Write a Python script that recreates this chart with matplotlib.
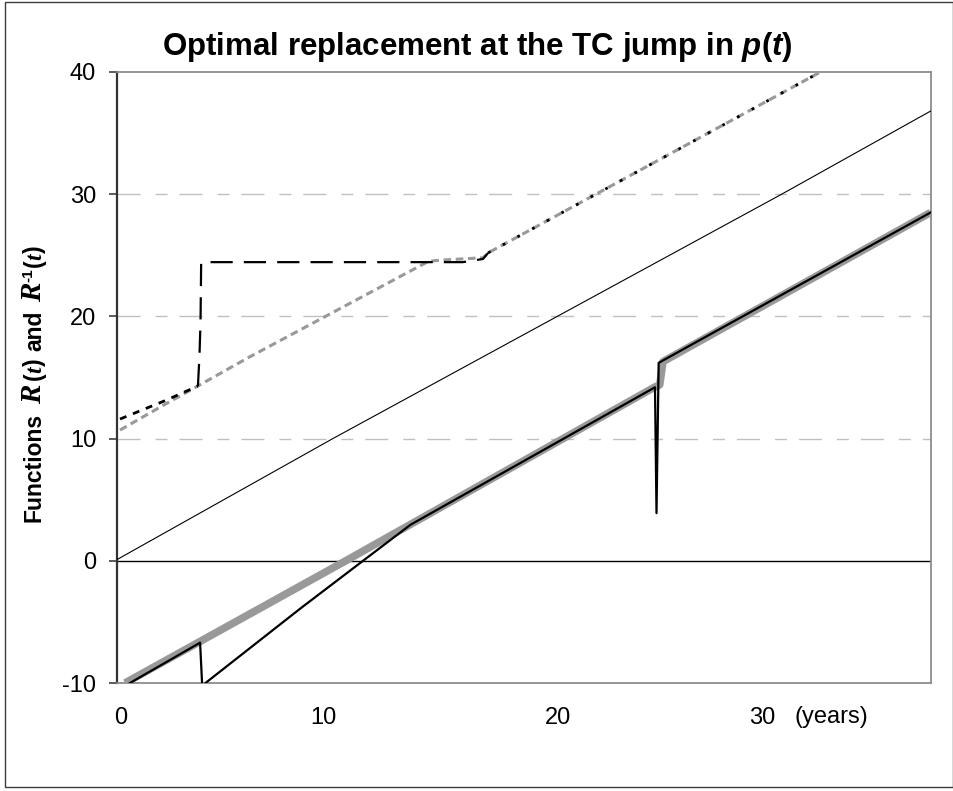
import matplotlib.pyplot as plt
from matplotlib.patches import Rectangle

# fuentes parecidas a Arial del original
plt.rcParams['font.family'] = ['Liberation Sans', 'DejaVu Sans']
plt.rcParams['axes.unicode_minus'] = False
plt.rcParams['mathtext.fontset'] = 'custom'
plt.rcParams['mathtext.rm'] = 'Liberation Sans:bold'
plt.rcParams['mathtext.it'] = 'Liberation Sans:italic:bold'
plt.rcParams['mathtext.bf'] = 'Liberation Sans:bold'

# datos (t en años)
thin_t = [0.0, 10.0, 30.8, 37.7]
thin_y = [0.1, 10.0, 30.0, 36.8]

gray_low_t = [0.37, 3.85, 10.6, 24.9, 25.15, 25.3, 37.7]
gray_low_y = [-10.0, -6.6, 0.0, 14.2, 14.4, 16.3, 28.5]

black_low_t = [0.6, 3.85, 3.95, 4.1, 8.5, 11.4, 13.6, 24.93, 25.0, 25.1, 37.7]
black_low_y = [-10.0, -6.7, -10.3, -10.0, -3.9, 0.0, 2.95, 14.2, 3.9, 16.2, 28.5]

gray_up_t = [0.14, 2.22, 3.7, 6.16, 14.43, 14.97, 16.96, 17.2, 22.4, 32.6, 37.7]
gray_up_y = [10.7, 12.8, 14.26, 16.7, 24.5, 24.6, 24.8, 25.2, 30.2, 40.0, 44.9]

# la serie negra de arriba: tramo inicial, salto + meseta, subida final
black_up_t1 = [0.14, 2.22, 3.75]
black_up_y1 = [11.6, 13.1, 14.3]
black_up_t2 = [3.75, 3.82, 3.87, 3.9, 16.03, 16.96, 17.2]
black_up_y2 = [14.3, 16.7, 19.5, 24.44, 24.44, 24.7, 25.2]
black_up_t3 = [17.2, 22.4, 32.6, 37.7]
black_up_y3 = [25.2, 30.2, 40.0, 44.9]

xtick_labels = ["0", "10", "20", "30"]
xtick_pos = [0.19, 9.55, 20.43, 29.9]
ytick_vals = [-10, 0, 10, 20, 30, 40]

fig = plt.figure(figsize=(9.54, 7.91), dpi=100)
ax = fig.add_axes([117/954, 108/791, 814/954, 611/791])

# lineas de la cuadricula
for g in [10, 20, 30]:
    ax.axhline(g, color='#c0c0c0', lw=1, linestyle=(0, (16.6, 10.8, 8.6, 8.6)), zorder=1)
ax.axhline(0, color='black', lw=1, zorder=2)

ax.plot(thin_t, thin_y, color='black', lw=0.8, zorder=3)
ax.plot(gray_low_t, gray_low_y, color='#999999', lw=5.5, solid_capstyle='butt', zorder=4)
ax.plot(black_low_t, black_low_y, color='black', lw=1.6, zorder=5)

ax.plot(gray_up_t, gray_up_y, color='#999999', lw=2.2, linestyle=(0, (2.5, 1.5)), zorder=4)
ax.plot(black_up_t1, black_up_y1, color='black', lw=2.0, linestyle=(0, (2.5, 2.5)), zorder=5)
ax.plot(black_up_t2, black_up_y2, color='black', lw=1.6, linestyle=(0, (10, 5)), zorder=5)
ax.plot(black_up_t3, black_up_y3, color='black', lw=2.0, linestyle=(0, (1, 5)), zorder=5)

ax.set_xlim(0, 37.72)
ax.set_ylim(-10, 40)
ax.set_xticks(xtick_pos)
ax.set_xticklabels(xtick_labels)
ax.set_yticks(ytick_vals)
ax.tick_params(axis='x', length=0, pad=17, labelsize=17)
ax.tick_params(axis='y', direction='out', length=6, width=1.2, color='#404040', pad=9, labelsize=17)

ax.spines['left'].set_color('#333333')
ax.spines['left'].set_linewidth(1.6)
for s in ['top', 'right', 'bottom']:
    ax.spines[s].set_color('#8c8c8c')
    ax.spines[s].set_linewidth(1.3)

fig.text(795/954, 1 - 717/791, "(years)", fontsize=17, ha='left', va='center')

fig.text(477/954, 1 - 55/791, r'Optimal replacement at the TC jump in $p(t)$',
         fontsize=22.5, weight='bold', ha='center', va='baseline')

# etiqueta del eje y armada por trozos (R en serif cursiva, mas grande)
renderer = fig.canvas.get_renderer()
sans = 'Liberation Sans'
serif = 'Liberation Serif'
trozos = [
    ("Functions", sans, 16.5, 'normal', 0, 9),
    ("R", serif, 21, 'italic', 0, 4),
    ("(", sans, 16.5, 'normal', 0, 0),
    ("t", serif, 17, 'italic', 0, 0),
    (")", sans, 16.5, 'normal', 0, 8),
    ("and", sans, 16.5, 'normal', 0, 8),
    ("R", serif, 21, 'italic', 0, 1),
    ("-1", sans, 11, 'normal', -9, 1),
    ("(", sans, 16.5, 'normal', 0, 0),
    ("t", serif, 17, 'italic', 0, 0),
    (")", sans, 16.5, 'normal', 0, 0),
]
x_base = 41
y_pos = 791 - 522
for texto, fam, size, estilo, dx, hueco in trozos:
    t = fig.text((x_base + dx) / 954, y_pos / 791, texto, rotation=90, rotation_mode='anchor',
                 ha='left', va='baseline', fontsize=size, family=fam, style=estilo, weight='bold')
    bb = t.get_window_extent(renderer)
    y_pos += bb.height + hueco

# marco exterior
fig.patches.append(Rectangle((5/954, 1 - 787/791), 948/954, 785/791, transform=fig.transFigure,
                             fill=False, edgecolor='#3c3c3c', lw=1))

fig.savefig('out.png', dpi=100)
